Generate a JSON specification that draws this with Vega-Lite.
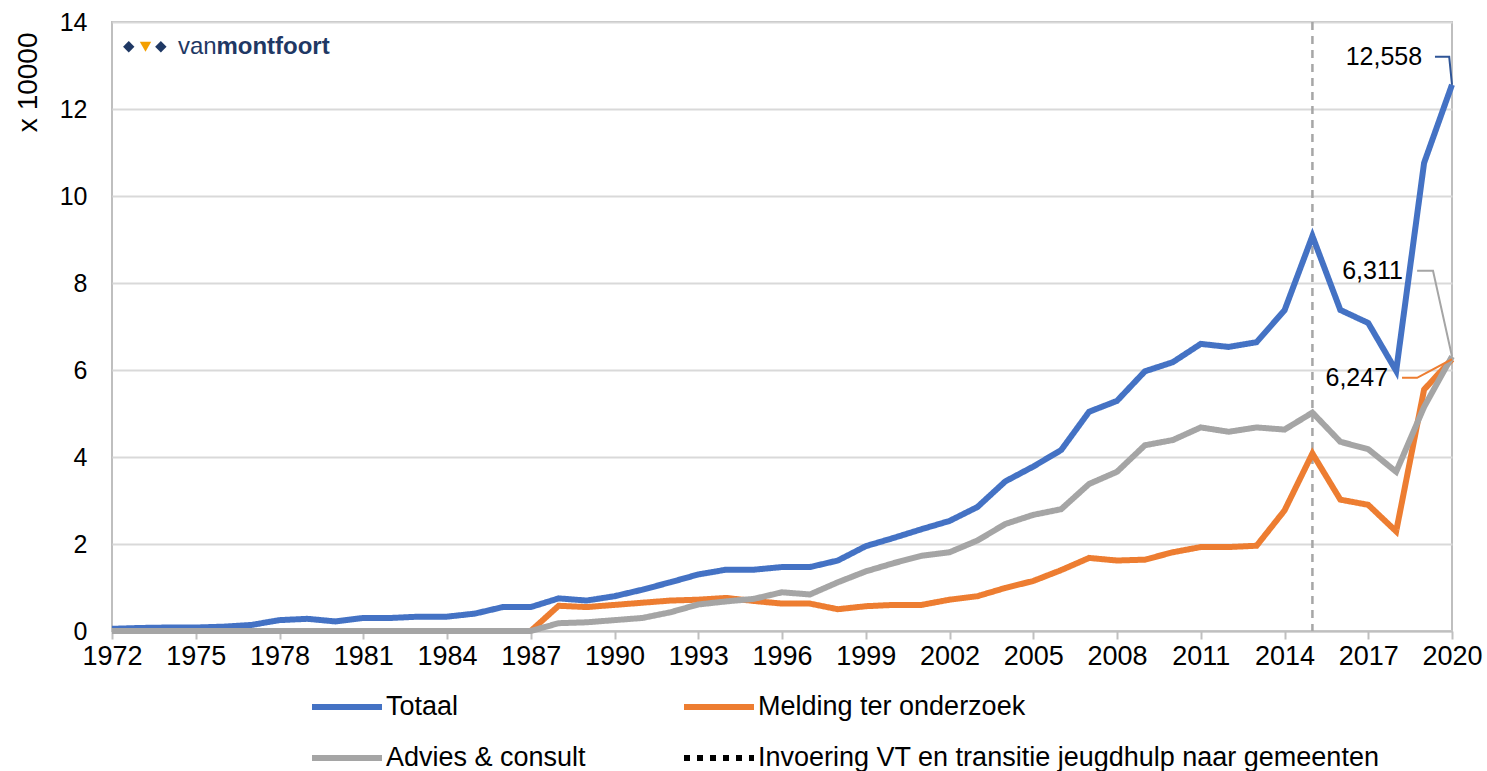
{
  "$schema": "https://vega.github.io/schema/vega-lite/v6.json",
  "autosize": {"type": "none"},
  "width": 1340,
  "height": 609,
  "padding": {"left": 112, "top": 22, "right": 35, "bottom": 140},
  "background": "white",
  "config": {
    "font": "Liberation Sans",
    "view": {"stroke": "#bfbfbf", "strokeWidth": 2},
    "axis": {"labelFont": "Liberation Sans", "titleFont": "Liberation Sans", "labelColor": "#000000", "titleColor": "#000000"},
    "legend": {
      "orient": "none", "direction": "horizontal", "columns": 2, "legendX": 197, "legendY": 647,
      "symbolType": "stroke", "symbolSize": 4900, "labelFontSize": 27, "labelFont": "Liberation Sans", "labelColor": "#000000",
      "labelOffset": 1, "columnPadding": 86, "rowPadding": -20, "labelLimit": 800
    }
  },
  "datasets": {
    "series": [
      {"year": 1972, "series": "Totaal", "value": 0.05},
      {"year": 1973, "series": "Totaal", "value": 0.07},
      {"year": 1974, "series": "Totaal", "value": 0.08},
      {"year": 1975, "series": "Totaal", "value": 0.08},
      {"year": 1976, "series": "Totaal", "value": 0.1},
      {"year": 1977, "series": "Totaal", "value": 0.14},
      {"year": 1978, "series": "Totaal", "value": 0.25},
      {"year": 1979, "series": "Totaal", "value": 0.28},
      {"year": 1980, "series": "Totaal", "value": 0.22},
      {"year": 1981, "series": "Totaal", "value": 0.3},
      {"year": 1982, "series": "Totaal", "value": 0.3},
      {"year": 1983, "series": "Totaal", "value": 0.33},
      {"year": 1984, "series": "Totaal", "value": 0.33},
      {"year": 1985, "series": "Totaal", "value": 0.4},
      {"year": 1986, "series": "Totaal", "value": 0.55},
      {"year": 1987, "series": "Totaal", "value": 0.55},
      {"year": 1988, "series": "Totaal", "value": 0.75},
      {"year": 1989, "series": "Totaal", "value": 0.7},
      {"year": 1990, "series": "Totaal", "value": 0.8},
      {"year": 1991, "series": "Totaal", "value": 0.95},
      {"year": 1992, "series": "Totaal", "value": 1.12},
      {"year": 1993, "series": "Totaal", "value": 1.3},
      {"year": 1994, "series": "Totaal", "value": 1.41},
      {"year": 1995, "series": "Totaal", "value": 1.41},
      {"year": 1996, "series": "Totaal", "value": 1.47},
      {"year": 1997, "series": "Totaal", "value": 1.47},
      {"year": 1998, "series": "Totaal", "value": 1.62},
      {"year": 1999, "series": "Totaal", "value": 1.95},
      {"year": 2000, "series": "Totaal", "value": 2.14},
      {"year": 2001, "series": "Totaal", "value": 2.34},
      {"year": 2002, "series": "Totaal", "value": 2.53},
      {"year": 2003, "series": "Totaal", "value": 2.85},
      {"year": 2004, "series": "Totaal", "value": 3.44},
      {"year": 2005, "series": "Totaal", "value": 3.78},
      {"year": 2006, "series": "Totaal", "value": 4.16},
      {"year": 2007, "series": "Totaal", "value": 5.04},
      {"year": 2008, "series": "Totaal", "value": 5.29},
      {"year": 2009, "series": "Totaal", "value": 5.97},
      {"year": 2010, "series": "Totaal", "value": 6.18},
      {"year": 2011, "series": "Totaal", "value": 6.6},
      {"year": 2012, "series": "Totaal", "value": 6.53},
      {"year": 2013, "series": "Totaal", "value": 6.64},
      {"year": 2014, "series": "Totaal", "value": 7.37},
      {"year": 2015, "series": "Totaal", "value": 9.08},
      {"year": 2016, "series": "Totaal", "value": 7.38},
      {"year": 2017, "series": "Totaal", "value": 7.08},
      {"year": 2018, "series": "Totaal", "value": 5.98},
      {"year": 2019, "series": "Totaal", "value": 10.76},
      {"year": 2020, "series": "Totaal", "value": 12.558},
      {"year": 1987, "series": "Melding ter onderzoek", "value": 0},
      {"year": 1988, "series": "Melding ter onderzoek", "value": 0.58},
      {"year": 1989, "series": "Melding ter onderzoek", "value": 0.55},
      {"year": 1990, "series": "Melding ter onderzoek", "value": 0.6},
      {"year": 1991, "series": "Melding ter onderzoek", "value": 0.65},
      {"year": 1992, "series": "Melding ter onderzoek", "value": 0.7},
      {"year": 1993, "series": "Melding ter onderzoek", "value": 0.72},
      {"year": 1994, "series": "Melding ter onderzoek", "value": 0.76},
      {"year": 1995, "series": "Melding ter onderzoek", "value": 0.69},
      {"year": 1996, "series": "Melding ter onderzoek", "value": 0.63},
      {"year": 1997, "series": "Melding ter onderzoek", "value": 0.63},
      {"year": 1998, "series": "Melding ter onderzoek", "value": 0.5},
      {"year": 1999, "series": "Melding ter onderzoek", "value": 0.57},
      {"year": 2000, "series": "Melding ter onderzoek", "value": 0.6},
      {"year": 2001, "series": "Melding ter onderzoek", "value": 0.6},
      {"year": 2002, "series": "Melding ter onderzoek", "value": 0.72},
      {"year": 2003, "series": "Melding ter onderzoek", "value": 0.8},
      {"year": 2004, "series": "Melding ter onderzoek", "value": 0.99},
      {"year": 2005, "series": "Melding ter onderzoek", "value": 1.15},
      {"year": 2006, "series": "Melding ter onderzoek", "value": 1.4},
      {"year": 2007, "series": "Melding ter onderzoek", "value": 1.68},
      {"year": 2008, "series": "Melding ter onderzoek", "value": 1.62},
      {"year": 2009, "series": "Melding ter onderzoek", "value": 1.64},
      {"year": 2010, "series": "Melding ter onderzoek", "value": 1.81},
      {"year": 2011, "series": "Melding ter onderzoek", "value": 1.93},
      {"year": 2012, "series": "Melding ter onderzoek", "value": 1.93},
      {"year": 2013, "series": "Melding ter onderzoek", "value": 1.96},
      {"year": 2014, "series": "Melding ter onderzoek", "value": 2.77},
      {"year": 2015, "series": "Melding ter onderzoek", "value": 4.08},
      {"year": 2016, "series": "Melding ter onderzoek", "value": 3.02},
      {"year": 2017, "series": "Melding ter onderzoek", "value": 2.9},
      {"year": 2018, "series": "Melding ter onderzoek", "value": 2.29},
      {"year": 2019, "series": "Melding ter onderzoek", "value": 5.55},
      {"year": 2020, "series": "Melding ter onderzoek", "value": 6.247},
      {"year": 1972, "series": "Advies & consult", "value": 0},
      {"year": 1973, "series": "Advies & consult", "value": 0},
      {"year": 1974, "series": "Advies & consult", "value": 0},
      {"year": 1975, "series": "Advies & consult", "value": 0},
      {"year": 1976, "series": "Advies & consult", "value": 0},
      {"year": 1977, "series": "Advies & consult", "value": 0},
      {"year": 1978, "series": "Advies & consult", "value": 0},
      {"year": 1979, "series": "Advies & consult", "value": 0},
      {"year": 1980, "series": "Advies & consult", "value": 0},
      {"year": 1981, "series": "Advies & consult", "value": 0},
      {"year": 1982, "series": "Advies & consult", "value": 0},
      {"year": 1983, "series": "Advies & consult", "value": 0},
      {"year": 1984, "series": "Advies & consult", "value": 0},
      {"year": 1985, "series": "Advies & consult", "value": 0},
      {"year": 1986, "series": "Advies & consult", "value": 0},
      {"year": 1987, "series": "Advies & consult", "value": 0},
      {"year": 1988, "series": "Advies & consult", "value": 0.18},
      {"year": 1989, "series": "Advies & consult", "value": 0.2},
      {"year": 1990, "series": "Advies & consult", "value": 0.25},
      {"year": 1991, "series": "Advies & consult", "value": 0.3},
      {"year": 1992, "series": "Advies & consult", "value": 0.43},
      {"year": 1993, "series": "Advies & consult", "value": 0.61},
      {"year": 1994, "series": "Advies & consult", "value": 0.68},
      {"year": 1995, "series": "Advies & consult", "value": 0.74},
      {"year": 1996, "series": "Advies & consult", "value": 0.89},
      {"year": 1997, "series": "Advies & consult", "value": 0.84},
      {"year": 1998, "series": "Advies & consult", "value": 1.12},
      {"year": 1999, "series": "Advies & consult", "value": 1.37},
      {"year": 2000, "series": "Advies & consult", "value": 1.56},
      {"year": 2001, "series": "Advies & consult", "value": 1.73},
      {"year": 2002, "series": "Advies & consult", "value": 1.81},
      {"year": 2003, "series": "Advies & consult", "value": 2.08},
      {"year": 2004, "series": "Advies & consult", "value": 2.46},
      {"year": 2005, "series": "Advies & consult", "value": 2.67},
      {"year": 2006, "series": "Advies & consult", "value": 2.8},
      {"year": 2007, "series": "Advies & consult", "value": 3.38},
      {"year": 2008, "series": "Advies & consult", "value": 3.66},
      {"year": 2009, "series": "Advies & consult", "value": 4.27},
      {"year": 2010, "series": "Advies & consult", "value": 4.39},
      {"year": 2011, "series": "Advies & consult", "value": 4.68},
      {"year": 2012, "series": "Advies & consult", "value": 4.58},
      {"year": 2013, "series": "Advies & consult", "value": 4.68},
      {"year": 2014, "series": "Advies & consult", "value": 4.63},
      {"year": 2015, "series": "Advies & consult", "value": 5.02},
      {"year": 2016, "series": "Advies & consult", "value": 4.35},
      {"year": 2017, "series": "Advies & consult", "value": 4.18},
      {"year": 2018, "series": "Advies & consult", "value": 3.66},
      {"year": 2019, "series": "Advies & consult", "value": 5.15},
      {"year": 2020, "series": "Advies & consult", "value": 6.311}
    ],
    "leaders": [
      {"id": "t", "year": 2019.39, "value": 13.2, "c": "#2f5597"},
      {"id": "t", "year": 2019.9, "value": 13.2, "c": "#2f5597"},
      {"id": "t", "year": 2020, "value": 12.558, "c": "#2f5597"},
      {"id": "a", "year": 2018.75, "value": 8.28, "c": "#a5a5a5"},
      {"id": "a", "year": 2019.32, "value": 8.28, "c": "#a5a5a5"},
      {"id": "a", "year": 2020, "value": 6.311, "c": "#a5a5a5"},
      {"id": "m", "year": 2018.21, "value": 5.82, "c": "#ed7d31"},
      {"id": "m", "year": 2018.75, "value": 5.82, "c": "#ed7d31"},
      {"id": "m", "year": 2020, "value": 6.247, "c": "#ed7d31"}
    ],
    "labels": [
      {"year": 2018.93, "value": 13.2, "text": "12,558"},
      {"year": 2018.24, "value": 8.28, "text": "6,311"},
      {"year": 2017.71, "value": 5.82, "text": "6,247"}
    ],
    "logo": [
      {"year": 1972.6, "value": 13.43, "shape": "diamond", "c": "#1f3864"},
      {"year": 1973.2, "value": 13.43, "shape": "triangle-down", "c": "#f4a000"},
      {"year": 1973.75, "value": 13.43, "shape": "diamond", "c": "#1f3864"}
    ],
    "logoA": [{"year": 1974.36, "value": 13.43, "text": "van"}],
    "logoB": [{"year": 1975.74, "value": 13.43, "text": "montfoort"}],
    "event": [{"year": 2015}]
  },
  "layer": [
    {
      "data": {"name": "event"},
      "mark": {"type": "rule", "color": "#a6a6a6", "strokeWidth": 2.5, "strokeDash": [8, 6]},
      "encoding": {
        "x": {"field": "year", "type": "quantitative", "scale": {"domain": [1972, 2020], "nice": false, "zero": false}}
      }
    },
    {
      "data": {"name": "series"},
      "mark": {"type": "line", "strokeJoin": "miter", "strokeCap": "butt"},
      "encoding": {
        "x": {
          "field": "year", "type": "quantitative",
          "scale": {"domain": [1972, 2020], "nice": false, "zero": false},
          "axis": {
            "title": null, "values": [1972, 1975, 1978, 1981, 1984, 1987, 1990, 1993, 1996, 1999, 2002, 2005, 2008, 2011, 2014, 2017, 2020],
            "format": "d", "grid": false, "labelFontSize": 27, "labelPadding": 4,
            "domainColor": "#bfbfbf", "domainWidth": 2, "tickColor": "#bfbfbf", "tickWidth": 2, "tickSize": 8,
            "labelFlush": false, "labelOverlap": false
          }
        },
        "y": {
          "field": "value", "type": "quantitative",
          "scale": {"domain": [0, 14], "nice": false},
          "axis": {
            "title": "x 10000", "titleFontSize": 28, "titleFontWeight": "normal", "titleX": -84, "titleY": 10, "titleAlign": "right", "titleAngle": -90, "titleBaseline": "middle",
            "values": [0, 2, 4, 6, 8, 10, 12, 14], "labelFontSize": 25, "labelPadding": 25,
            "ticks": false, "domain": false, "gridColor": "#d9d9d9", "gridWidth": 2
          }
        },
        "color": {
          "field": "series", "type": "nominal",
          "scale": {"domain": ["Totaal", "Melding ter onderzoek", "Advies & consult", "Invoering VT en transitie jeugdhulp naar gemeenten"], "range": ["#4472c4", "#ed7d31", "#a5a5a5", "#000000"]},
          "legend": {"title": null}
        },
        "strokeDash": {
          "field": "series", "type": "nominal",
          "scale": {"domain": ["Totaal", "Melding ter onderzoek", "Advies & consult", "Invoering VT en transitie jeugdhulp naar gemeenten"], "range": [[1, 0], [1, 0], [1, 0], [6, 7]]},
          "legend": {"title": null}
        },
        "strokeWidth": {
          "field": "series", "type": "nominal",
          "scale": {"domain": ["Totaal", "Melding ter onderzoek", "Advies & consult", "Invoering VT en transitie jeugdhulp naar gemeenten"], "range": [6, 6, 6, 1.5]},
          "legend": {"title": null}
        }
      }
    },
    {
      "data": {"name": "leaders"},
      "mark": {"type": "line", "strokeWidth": 2},
      "encoding": {
        "x": {"field": "year", "type": "quantitative"},
        "y": {"field": "value", "type": "quantitative"},
        "detail": {"field": "id"},
        "stroke": {"field": "c", "type": "nominal", "scale": null, "legend": null}
      }
    },
    {
      "data": {"name": "labels"},
      "mark": {"type": "text", "align": "right", "baseline": "middle", "fontSize": 25, "font": "Liberation Sans", "color": "#000000"},
      "encoding": {
        "x": {"field": "year", "type": "quantitative"},
        "y": {"field": "value", "type": "quantitative"},
        "text": {"field": "text"}
      }
    },
    {
      "data": {"name": "logo"},
      "mark": {"type": "point", "filled": true, "size": 130, "opacity": 1},
      "encoding": {
        "x": {"field": "year", "type": "quantitative"},
        "y": {"field": "value", "type": "quantitative"},
        "shape": {"field": "shape", "type": "nominal", "scale": null, "legend": null},
        "fill": {"field": "c", "type": "nominal", "scale": null, "legend": null}
      }
    },
    {
      "data": {"name": "logoA"},
      "mark": {"type": "text", "align": "left", "baseline": "middle", "fontSize": 24, "font": "Liberation Sans", "color": "#1f3864", "fontWeight": "normal"},
      "encoding": {
        "x": {"field": "year", "type": "quantitative"},
        "y": {"field": "value", "type": "quantitative"},
        "text": {"field": "text"}
      }
    },
    {
      "data": {"name": "logoB"},
      "mark": {"type": "text", "align": "left", "baseline": "middle", "fontSize": 24, "font": "Liberation Sans", "color": "#1f3864", "fontWeight": "bold"},
      "encoding": {
        "x": {"field": "year", "type": "quantitative"},
        "y": {"field": "value", "type": "quantitative"},
        "text": {"field": "text"}
      }
    }
  ]
}
